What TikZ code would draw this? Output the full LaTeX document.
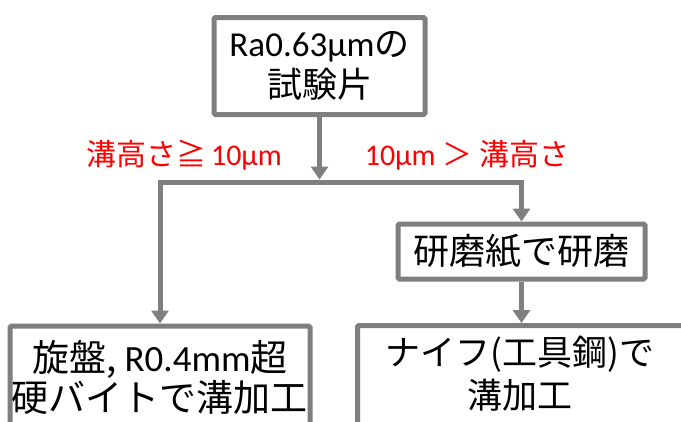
\documentclass[tikz,border=0pt]{standalone}
\usepackage{fontspec}
\setmainfont{Carlito}
\newfontfamily\jp{Noto Sans CJK JP}
\usetikzlibrary{arrows.meta}
\definecolor{boxgray}{HTML}{7F7F7F}
\tikzset{
  box/.style={draw=boxgray, line width=5pt, fill=white, rounded corners=1.5pt, inner sep=0pt, align=center},
  arr/.style={draw=boxgray, line width=5pt, -{Triangle[length=13pt,width=17pt]}},
  redlabel/.style={text=red, inner sep=0pt, font=\fontsize{30}{34}\selectfont},
  boxtext/.style={inner sep=0pt, align=center}
}
\begin{document}
\begin{tikzpicture}[x=1pt,y=-1pt]
\useasboundingbox (0,0) rectangle (681,421);
\clip (0,0) rectangle (681,421);
% boxes
\node[box, minimum width=211pt, minimum height=97pt, font=\fontsize{35}{41}\selectfont] (top) at (319.5,66) {Ra0.63μm{\jp の}\\{\jp 試験片}};
\node[box, minimum width=247pt, minimum height=55pt, font=\fontsize{36}{40}\selectfont] (b2) at (521.5,251.5) {\jp 研磨紙で研磨};
\node[box, minimum width=300pt, minimum height=110pt, anchor=north] (bl) at (160,323.5) {};
\node[box, minimum width=328pt, minimum height=110pt, anchor=north] (br) at (521.5,323) {};
\node[boxtext, font=\fontsize{37}{40}\selectfont] (blt) at (160,377) {{\jp 旋盤,}\hspace{8pt}R0.4mm{\jp 超}\\{\jp 硬バイトで溝加工}};
\node[boxtext, font=\fontsize{35}{43}\selectfont] (brt) at (520,374) {\jp ナイフ(工具鋼)で\\\jp 溝加工};
% labels
\node[redlabel] (ll) at (184,155) {{\jp 溝高さ≧}\,10μm};
\node[redlabel] (rl) at (467,155) {10μm {\jp ＞ 溝高さ}};
% connectors
\coordinate (j) at (319.5,182);
\draw[arr, shorten >=2.5pt] (top.south) -- (j);
\draw[arr] (j) -| (bl.north);
\draw[arr] (j) -| (b2.north);
\draw[arr] (b2.south) -- (br.north);
\end{tikzpicture}
\end{document}
